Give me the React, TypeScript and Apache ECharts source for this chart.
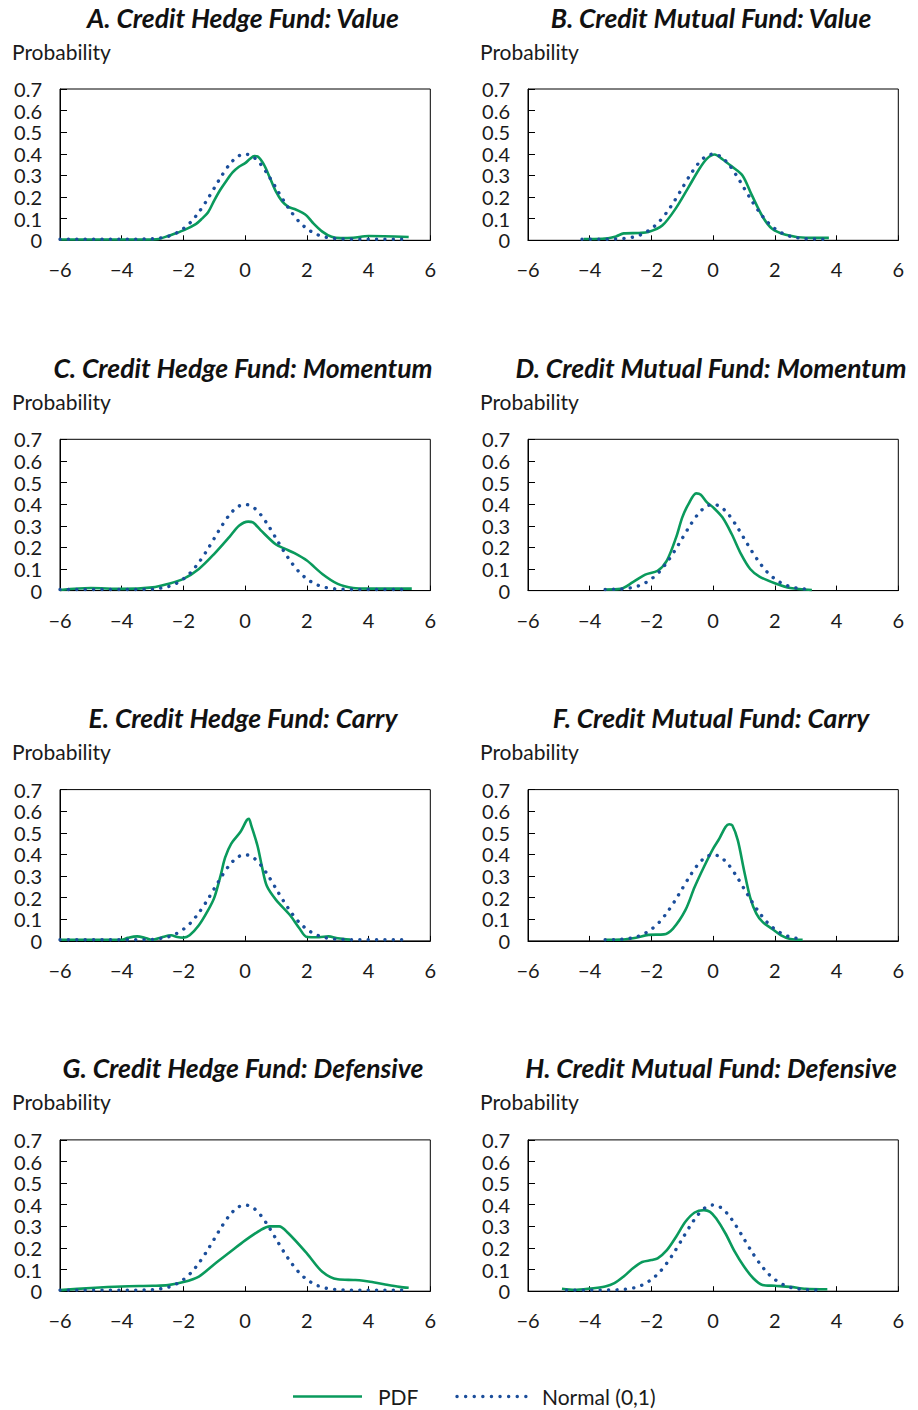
import React, { useEffect, useRef } from "react";
import * as echarts from "echarts";

const GREEN = "#0A9A5C";
const BLUE = "#1B4E9B";
const TEXT = "#1a1a1a";
const FONT = "Lato";

const panelTitles = [
  "A. Credit Hedge Fund: Value",
  "B. Credit Mutual Fund: Value",
  "C. Credit Hedge Fund: Momentum",
  "D. Credit Mutual Fund: Momentum",
  "E. Credit Hedge Fund: Carry",
  "F. Credit Mutual Fund: Carry",
  "G. Credit Hedge Fund: Defensive",
  "H. Credit Mutual Fund: Defensive",
];

const yAxisTitle = "Probability";
const legendNames = ["PDF", "Normal (0,1)"];

// Normal (0,1) density
const normalX = [
  -6, -5.75, -5.5, -5.25, -5, -4.75, -4.5, -4.25, -4, -3.75, -3.5, -3.25, -3, -2.75, -2.5, -2.25,
  -2, -1.75, -1.5, -1.25, -1, -0.75, -0.5, -0.25, 0, 0.25, 0.5, 0.75, 1, 1.25, 1.5, 1.75, 2,
  2.25, 2.5, 2.75, 3, 3.25, 3.5, 3.75, 4, 4.25, 4.5, 4.75, 5, 5.25,
];
const normalY = [
  0.005, 0.005, 0.005, 0.005, 0.005, 0.005, 0.005, 0.005, 0.005, 0.005, 0.005, 0.006, 0.007, 0.011, 0.018, 0.032,
  0.054, 0.086, 0.13, 0.183, 0.242, 0.301, 0.352, 0.387, 0.399, 0.387, 0.352, 0.301, 0.242, 0.183, 0.13, 0.086, 0.054,
  0.032, 0.018, 0.011, 0.007, 0.006, 0.005, 0.005, 0.005, 0.005, 0.005, 0.005, 0.005, 0.005,
];
const normalFrom = [-6, -4.25, -6, -3.5, -6, -3.5, -6, -4.75];
const normalTo = [5.25, 3.75, 5.25, 3, 5.25, 2.75, 5.25, 3.5];

// PDF curves
const pdfAX = [-6, -5, -4, -3, -2.8, -2.5, -2, -1.6, -1.4, -1.2, -1, -0.8, -0.6, -0.4, -0.2, 0, 0.15, 0.3, 0.4, 0.6, 0.8, 1, 1.2, 1.4, 1.6, 1.85, 2, 2.2, 2.5, 2.8, 3.1, 3.5, 4, 4.5, 5.3];
const pdfAY = [0.004, 0.004, 0.004, 0.004, 0.006, 0.02, 0.046, 0.075, 0.1, 0.13, 0.185, 0.235, 0.277, 0.315, 0.34, 0.357, 0.376, 0.39, 0.388, 0.352, 0.29, 0.225, 0.18, 0.155, 0.145, 0.128, 0.113, 0.08, 0.04, 0.016, 0.01, 0.012, 0.02, 0.019, 0.015];

const pdfBX = [-4.2, -3.6, -3.15, -2.9, -2.4, -2.1, -1.65, -1.2, -0.8, -0.45, -0.2, 0.05, 0.3, 0.6, 0.95, 1.25, 1.6, 1.9, 2.35, 3, 3.75];
const pdfBY = [0.006, 0.007, 0.018, 0.032, 0.034, 0.038, 0.068, 0.15, 0.245, 0.33, 0.378, 0.397, 0.375, 0.342, 0.3, 0.21, 0.11, 0.055, 0.026, 0.012, 0.011];

const pdfCX = [-6, -5, -4, -3, -2.5, -2, -1.5, -1, -0.5, -0.2, 0.1, 0.25, 0.5, 1, 1.3, 1.6, 2, 2.5, 3, 3.5, 4, 5.4];
const pdfCY = [0.003, 0.012, 0.008, 0.015, 0.031, 0.054, 0.1, 0.17, 0.25, 0.3, 0.319, 0.316, 0.28, 0.213, 0.193, 0.173, 0.139, 0.077, 0.031, 0.012, 0.009, 0.009];

const pdfDX = [-3.5, -3, -2.6, -2.2, -1.8, -1.5, -1.2, -1, -0.8, -0.55, -0.4, -0.2, 0, 0.3, 0.6, 0.9, 1.2, 1.5, 2, 2.5, 3.2];
const pdfDY = [0.005, 0.008, 0.039, 0.074, 0.092, 0.139, 0.246, 0.339, 0.4, 0.45, 0.444, 0.408, 0.385, 0.339, 0.262, 0.17, 0.1, 0.065, 0.034, 0.012, 0.003];

const pdfEX = [-6, -4, -3.8, -3.5, -3.2, -3, -2.7, -2.4, -2.2, -2, -1.8, -1.5, -1.2, -1, -0.8, -0.65, -0.45, -0.15, 0.05, 0.12, 0.2, 0.4, 0.55, 0.7, 1, 1.45, 1.75, 2, 2.4, 2.7, 3, 3.4];
const pdfEY = [0.005, 0.005, 0.014, 0.021, 0.012, 0.005, 0.017, 0.026, 0.018, 0.015, 0.026, 0.072, 0.142, 0.2, 0.3, 0.385, 0.45, 0.505, 0.558, 0.565, 0.533, 0.44, 0.34, 0.255, 0.19, 0.12, 0.06, 0.018, 0.017, 0.021, 0.012, 0.006];

const pdfFX = [-3.5, -3, -2.5, -2.1, -1.6, -1.3, -0.9, -0.6, -0.3, 0, 0.2, 0.4, 0.52, 0.62, 0.8, 1, 1.2, 1.4, 1.6, 1.9, 2.2, 2.5, 2.9];
const pdfFY = [0.005, 0.006, 0.015, 0.028, 0.03, 0.057, 0.142, 0.249, 0.342, 0.427, 0.473, 0.527, 0.54, 0.535, 0.465, 0.327, 0.2, 0.126, 0.088, 0.057, 0.026, 0.009, 0.005];

const pdfGX = [-6, -5, -4, -3, -2.5, -2, -1.5, -1, -0.5, 0, 0.5, 0.8, 1.1, 1.4, 2, 2.5, 3, 3.5, 3.7, 4, 4.5, 5, 5.3];
const pdfGY = [0.005, 0.015, 0.022, 0.025, 0.028, 0.042, 0.068, 0.125, 0.18, 0.235, 0.283, 0.3, 0.3, 0.268, 0.175, 0.09, 0.055, 0.052, 0.051, 0.045, 0.032, 0.02, 0.016];

const pdfHX = [-4.9, -4.5, -4, -3.5, -3.2, -2.9, -2.6, -2.3, -2, -1.8, -1.5, -1.2, -0.9, -0.6, -0.3, -0.1, 0.1, 0.4, 0.7, 1, 1.3, 1.6, 2, 2.5, 3, 3.7];
const pdfHY = [0.011, 0.006, 0.012, 0.022, 0.037, 0.068, 0.106, 0.135, 0.144, 0.152, 0.19, 0.252, 0.321, 0.364, 0.375, 0.367, 0.336, 0.267, 0.183, 0.114, 0.06, 0.029, 0.025, 0.02, 0.011, 0.009];

const pdfXs = [pdfAX, pdfBX, pdfCX, pdfDX, pdfEX, pdfFX, pdfGX, pdfHX];
const pdfYs = [pdfAY, pdfBY, pdfCY, pdfDY, pdfEY, pdfFY, pdfGY, pdfHY];

// Layout
const GRID_LEFT = [60, 528];
const GRID_TOP0 = 89;
const ROW_STEP = 350.3;
const GRID_W = 370.3;
const GRID_H = 151.3;
const TITLE_CX = [243, 711];
const PROB_X = [12, 480];

const zip = (xs: number[], ys: number[]) => xs.map((x, i) => [x, ys[i]]);

export default function App() {
  const ref = useRef<HTMLDivElement>(null);

  useEffect(() => {
    if (!ref.current) return;
    const chart = echarts.init(ref.current, undefined, { renderer: "svg" });

    const grids: any[] = [];
    const xAxes: any[] = [];
    const yAxes: any[] = [];
    const series: any[] = [];
    const graphics: any[] = [];

    for (let i = 0; i < 8; i++) {
      const col = i % 2;
      const row = Math.floor(i / 2);
      const top = GRID_TOP0 + row * ROW_STEP;
      grids.push({
        left: GRID_LEFT[col],
        top,
        width: GRID_W,
        height: GRID_H,
        show: true,
        borderColor: "#000",
        borderWidth: 1,
        backgroundColor: "transparent",
      });
      xAxes.push({
        gridIndex: i,
        type: "value",
        min: -6,
        max: 6,
        interval: 2,
        axisLine: { show: true, onZero: false, lineStyle: { color: "#000", width: 1 } },
        axisTick: { show: true, inside: true, length: 5, lineStyle: { color: "#000" } },
        splitLine: { show: false },
        axisLabel: {
          margin: 19,
          fontSize: 20,
          fontFamily: FONT,
          color: TEXT,
          formatter: (v: number) => (v < 0 ? "\u2212" + Math.abs(v) : String(v)),
        },
      });
      yAxes.push({
        gridIndex: i,
        type: "value",
        min: 0,
        max: 0.7,
        interval: 0.1,
        axisLine: { show: true, onZero: false, lineStyle: { color: "#000", width: 1 } },
        axisTick: { show: true, inside: true, length: 7, lineStyle: { color: "#000" } },
        splitLine: { show: false },
        axisLabel: {
          margin: 18,
          fontSize: 20,
          fontFamily: FONT,
          color: TEXT,
          formatter: (v: number) => (Math.abs(v) < 1e-9 ? "0" : v.toFixed(1)),
        },
      });

      series.push({
        name: legendNames[0],
        type: "line",
        xAxisIndex: i,
        yAxisIndex: i,
        data: zip(pdfXs[i], pdfYs[i]),
        symbol: "none",
        showSymbol: false,
        smooth: 0.3,
        lineStyle: { color: GREEN, width: 2.6 },
        z: 3,
      });

      const nx: number[] = [];
      const ny: number[] = [];
      normalX.forEach((x, k) => {
        if (x >= normalFrom[i] - 1e-9 && x <= normalTo[i] + 1e-9) {
          nx.push(x);
          ny.push(normalY[k]);
        }
      });
      series.push({
        name: legendNames[1],
        type: "line",
        xAxisIndex: i,
        yAxisIndex: i,
        data: zip(nx, ny),
        symbol: "none",
        showSymbol: false,
        smooth: 0.3,
        lineStyle: { color: BLUE, width: 3.4, type: [0.1, 8.3], cap: "round" },
        z: 4,
      });

      graphics.push({
        type: "text",
        x: TITLE_CX[col],
        y: 17.5 + row * ROW_STEP,
        style: {
          text: panelTitles[i],
          fontFamily: FONT,
          fontSize: 26.5,
          fontWeight: "bold",
          fontStyle: "italic",
          fill: "#111",
          align: "center",
          verticalAlign: "middle",
        },
      });
      graphics.push({
        type: "text",
        x: PROB_X[col],
        y: 51 + row * ROW_STEP,
        style: {
          text: yAxisTitle,
          fontFamily: FONT,
          fontSize: 21,
          fill: TEXT,
          align: "left",
          verticalAlign: "middle",
        },
      });
    }

    // Legend
    graphics.push({
      type: "line",
      shape: { x1: 293, y1: 1396.5, x2: 362, y2: 1396.5 },
      style: { stroke: GREEN, lineWidth: 2.6 },
    });
    graphics.push({
      type: "text",
      x: 378,
      y: 1396.5,
      style: { text: legendNames[0], fontFamily: FONT, fontSize: 21, fill: TEXT, align: "left", verticalAlign: "middle" },
    });
    graphics.push({
      type: "line",
      shape: { x1: 457, y1: 1396.5, x2: 526, y2: 1396.5 },
      style: { stroke: BLUE, lineWidth: 3.4, lineDash: [0.1, 8.5], lineCap: "round" },
    });
    graphics.push({
      type: "text",
      x: 542,
      y: 1396.5,
      style: { text: legendNames[1], fontFamily: FONT, fontSize: 21, fill: TEXT, align: "left", verticalAlign: "middle" },
    });

    chart.setOption({
      animation: false,
      backgroundColor: "#fff",
      grid: grids,
      xAxis: xAxes,
      yAxis: yAxes,
      series,
      graphic: graphics,
    });

    return () => chart.dispose();
  }, []);

  return (
    <div
      ref={ref}
      style={{ position: "fixed", left: 0, top: 0, width: 918, height: 1410, background: "#fff" }}
    />
  );
}
